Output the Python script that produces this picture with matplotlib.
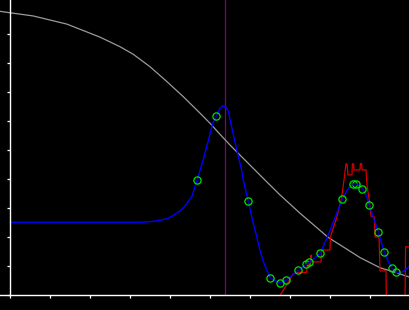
import matplotlib
matplotlib.use("Agg")
import matplotlib.pyplot as plt

# blue smooth curve
blue_x = [0, 3.25, 3.45, 3.625, 3.8, 3.95, 4.125, 4.25, 4.35, 4.45, 4.55, 4.68, 4.83, 4.96,
          5.07, 5.16, 5.25, 5.33, 5.40, 5.46, 5.54, 5.67, 5.79, 5.83, 5.96, 6.08, 6.17, 6.25,
          6.33, 6.42, 6.51, 6.67, 6.76, 6.89, 7.0, 7.125, 7.21, 7.41, 7.48, 7.76, 7.92, 8.04,
          8.17, 8.31, 8.43, 8.54, 8.625, 8.75, 8.82, 8.92, 8.98, 9.08, 9.21, 9.36, 9.46, 9.56,
          9.67, 9.75, 9.875, 10.0]
blue_y = [2.51, 2.51, 2.52, 2.55, 2.59, 2.64, 2.78, 2.90, 3.03, 3.21, 3.41, 3.97, 4.66, 5.34,
          5.92, 6.17, 6.44, 6.53, 6.48, 6.32, 5.80, 5.00, 4.31, 3.97, 3.22, 2.47, 2.00, 1.53,
          1.17, 0.86, 0.58, 0.46, 0.41, 0.51, 0.62, 0.75, 0.85, 1.06, 1.13, 1.44, 1.96, 2.36,
          2.82, 3.30, 3.62, 3.80, 3.85, 3.76, 3.64, 3.39, 3.09, 2.70, 2.16, 1.47, 1.15, 0.92,
          0.78, 0.75, 0.86, 1.00]

# observed points
obs_x = [4.68, 5.16, 5.96, 6.51, 6.76, 6.89, 7.21, 7.41, 7.48, 7.76,
         8.31, 8.58, 8.66, 8.81, 8.98, 9.21, 9.36, 9.56, 9.66]
obs_y = [3.97, 6.17, 3.23, 0.58, 0.41, 0.51, 0.85, 1.06, 1.13, 1.44,
         3.30, 3.82, 3.82, 3.64, 3.10, 2.16, 1.48, 0.92, 0.79]

# grey decaying curve
grey_x = [-0.25, 0.0, 0.58, 1.42, 2.25, 2.75, 3.08, 3.5, 3.92, 4.33, 4.75, 5.0, 5.25,
          5.5, 6.325, 6.75, 7.25, 7.95, 8.375, 8.75, 9.25, 9.625, 10.0]
grey_y = [9.78, 9.73, 9.62, 9.34, 8.89, 8.56, 8.30, 7.87, 7.36, 6.84, 6.27, 5.92, 5.54,
          5.17, 4.03, 3.45, 2.82, 1.99, 1.62, 1.29, 0.94, 0.78, 0.61]

# red stepped curve
red_x = [6.67, 7.075, 7.175, 7.41, 7.44, 7.51, 7.525, 7.54, 7.775, 7.79, 8.0, 8.01, 8.15,
         8.29, 8.35, 8.4, 8.425, 8.45, 8.55, 8.56, 8.59, 8.6, 8.75, 8.76, 8.79, 8.8, 8.9,
         8.925, 9.0, 9.025, 9.11, 9.125, 9.225, 9.25, 9.4, 9.41, 9.875, 9.89, 10.0]
red_y = [-0.2, 0.72, 0.78, 0.78, 1.07, 1.07, 1.38, 1.14, 1.14, 1.55, 1.55, 2.0, 2.59,
         3.34, 3.97, 4.52, 4.52, 4.14, 4.14, 4.52, 4.52, 4.31, 4.31, 4.53, 4.53, 4.31, 4.31,
         3.79, 3.10, 2.72, 2.69, 2.0, 2.0, 0.83, 0.83, -0.2, -0.2, 1.66, 1.66]

marker_x = 5.38

fig = plt.figure(figsize=(4.1, 3.1), dpi=100, facecolor="black")
ax = fig.add_axes([0, 15 / 310, 1, 295 / 310])
ax.set_facecolor("black")

ax.axvline(marker_x, color="#800080", lw=0.9)
ax.plot(grey_x, grey_y, color="#9a9a9a", lw=0.9)
ax.plot(red_x, red_y, color="#d00000", lw=0.9)
ax.plot(blue_x, blue_y, color="#0000ff", lw=1.0)
ax.plot(obs_x, obs_y, "o", ms=5.2, mfc="none", mec="#00e000", mew=0.9)
ax.plot(obs_x, obs_y, ".", ms=1.5, color="#000080")

ax.set_xlim(-0.25, 10.0)
ax.set_ylim(0, 10.17)
ax.set_xticks(range(0, 11))
ax.set_yticks(range(0, 10))
ax.tick_params(colors="white", direction="out", length=2.5, width=0.9,
               labelbottom=False, labelleft=False)
ax.spines["left"].set_position(("data", 0))
for s in ["left", "bottom"]:
    ax.spines[s].set_color("white")
    ax.spines[s].set_linewidth(1.0)
    ax.spines[s].set_zorder(5)
ax.spines["top"].set_visible(False)
ax.spines["right"].set_visible(False)

fig.savefig("out.png", dpi=100, facecolor="black")
